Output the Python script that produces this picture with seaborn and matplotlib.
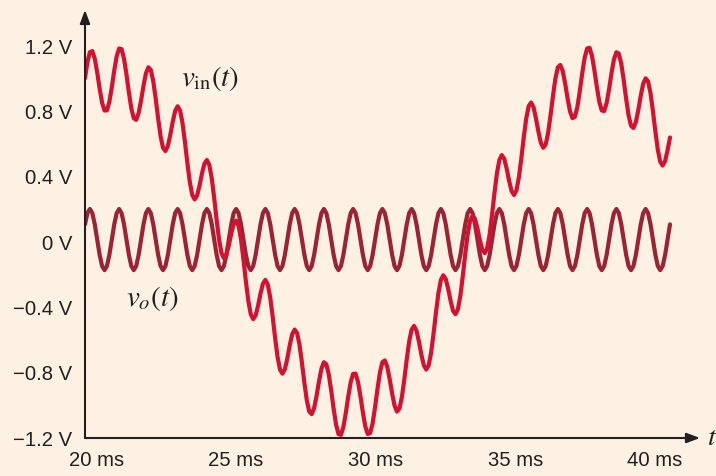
import numpy as np
import pandas as pd
import matplotlib
matplotlib.use("Agg")
import matplotlib.pyplot as plt
import seaborn as sns

t_start_ms = 20
t_end_ms = 40

# input signal v_in(t), millivolts
vin_mV = [
    1003, 1102, 1162, 1169, 1123, 1039, 940, 854, 805, 806, 859, 948,
    1050, 1137, 1185, 1181, 1123, 1027, 916, 819, 758, 748, 789, 866,
    957, 1033, 1070, 1054, 985, 878, 757, 648, 577, 557, 588, 656,
    737, 803, 831, 806, 729, 613, 484, 367, 288, 261, 285, 346,
    420, 480, 502, 472, 390, 270, 135, 15, -68, -99, -78, -20,
    52, 110, 131, 99, 16, -105, -240, -360, -442, -472,
    -450, -390, -316, -255, -232, -261, -341, -458, -588, -704,
    -781, -806, -779, -713, -632, -565, -536, -557, -629, -739,
    -861, -969, -1038, -1054, -1017, -942, -853, -776, -736, -748,
    -810, -909, -1021, -1118, -1176, -1181, -1133, -1047, -946, -858,
    -807, -806, -857, -944, -1044, -1129, -1176, -1169, -1110, -1012,
    -899, -799, -736, -725, -764, -840, -928, -1002, -1038, -1020,
    -950, -842, -718, -608, -536, -514, -543, -610, -690, -755,
    -781, -755, -677, -560, -430, -312, -232, -204, -227, -287,
    -361, -421, -442, -411, -329, -208, -73, 48, 131, 162,
    141, 83, 11, -48, -68, -37, 46, 167, 301, 421,
    502, 532, 509, 449, 374, 312, 288, 316, 395, 511,
    640, 755, 831, 854, 826, 758, 677, 608, 577, 597,
    668, 776, 896, 1002, 1070, 1084, 1046, 969, 878, 799,
    758, 767, 827, 925, 1034, 1129, 1185, 1189, 1139, 1051,
    948, 858, 805, 802, 851, 936, 1034, 1118, 1162, 1153,
    1092, 992, 878, 776, 712, 698, 735, 809, 896, 969,
    1002, 983, 912, 801, 677, 565, 491, 468, 496, 562,
    640,
]

# output signal v_o(t), millivolts
vo_mV = [
    108, 177, 202, 177, 109, 15, -78, -147, -172, -147, -79, 15,
    108, 177, 202, 177, 109, 15, -78, -147, -172, -147, -79, 15,
    108, 177, 202, 177, 109, 15, -78, -147, -172, -147, -79, 15,
    108, 177, 202, 177, 109, 15, -78, -147, -172, -147, -79, 15,
    108, 177, 202, 177, 109, 15, -78, -147, -172, -147, -79, 15,
    108, 177, 202, 177, 109, 15, -78, -147, -172, -147, -79, 15,
    108, 177, 202, 177, 109, 15, -78, -147, -172, -147, -79, 15,
    108, 177, 202, 177, 109, 15, -78, -147, -172, -147, -79, 15,
    108, 177, 202, 177, 109, 15, -78, -147, -172, -147, -79, 15,
    108, 177, 202, 177, 109, 15, -78, -147, -172, -147, -79, 15,
    108, 177, 202, 177, 109, 15, -78, -147, -172, -147, -79, 15,
    108, 177, 202, 177, 109, 15, -78, -147, -172, -147, -79, 15,
    108, 177, 202, 177, 109, 15, -78, -147, -172, -147, -79, 15,
    108, 177, 202, 177, 109, 15, -78, -147, -172, -147, -79, 15,
    108, 177, 202, 177, 109, 15, -78, -147, -172, -147, -79, 15,
    108, 177, 202, 177, 109, 15, -78, -147, -172, -147, -79, 15,
    108, 177, 202, 177, 109, 15, -78, -147, -172, -147, -79, 15,
    108, 177, 202, 177, 109, 15, -78, -147, -172, -147, -79, 15,
    108, 177, 202, 177, 109, 15, -78, -147, -172, -147, -79, 15,
    108, 177, 202, 177, 109, 15, -78, -147, -172, -147, -79, 15,
    108,
]

y_ticks_mV = [1200, 800, 400, 0, -400, -800, -1200]
y_tick_labels = ["1.2 V", "0.8 V", "0.4 V", "0 V", "\u22120.4 V", "\u22120.8 V", "\u22121.2 V"]
x_tick_labels = ["20 ms", "25 ms", "30 ms", "35 ms", "40 ms"]
x_tick_label_pos_ms = [20.38, 25.16, 29.95, 34.72, 39.49]

# ---- styling ----
BG = "#fdf1e3"
INK = "#231f20"
C_IN = "#d31130"
C_OUT = "#9b2335"

sns.set_style("white", {"axes.facecolor": BG, "figure.facecolor": BG})
plt.rcParams["font.family"] = ["Liberation Sans", "DejaVu Sans"]
plt.rcParams["mathtext.fontset"] = "stix"

t_ms = np.linspace(t_start_ms, t_end_ms, len(vin_mV))
df = pd.DataFrame({"t": t_ms, "vin": vin_mV, "vo": vo_mV})

fig = plt.figure(figsize=(7.16, 4.76), dpi=100)
ax = fig.add_axes([85 / 716, 38 / 476, 615 / 716, 428 / 476])

sns.lineplot(data=df, x="t", y="vo", ax=ax, color=C_OUT, linewidth=3)
sns.lineplot(data=df, x="t", y="vin", ax=ax, color=C_IN, linewidth=3)

ax.set_xlim(20, 20 + 615 / 29.25)
ax.set_ylim(-1200, -1200 + 428 / 0.16333)

for s in ax.spines.values():
    s.set_visible(False)

arrow = dict(arrowstyle="-|>,head_length=0.8,head_width=0.3", color=INK, lw=1.5,
             shrinkA=0, shrinkB=0)
ax.annotate("", xy=(1, 0), xytext=(0, 0), xycoords="axes fraction", arrowprops=arrow)
ax.annotate("", xy=(0, 1), xytext=(0, 0), xycoords="axes fraction", arrowprops=arrow)

ax.set_yticks(y_ticks_mV, y_tick_labels)
ax.set_xticks(x_tick_label_pos_ms, x_tick_labels)
ax.tick_params(length=0, labelsize=14.6, colors=INK, pad=9)
ax.set_xlabel("")
ax.set_ylabel("")

ax.text(24.27, 1000, r"$v_{\mathrm{in}}(t)$", fontsize=21, ha="center", va="center", color=INK)
ax.text(22.29, -343, r"$v_{o}(t)$", fontsize=21, ha="center", va="center", color=INK)
ax.text(41.44, -1200, r"$t$", fontsize=20, ha="center", va="center", color=INK, clip_on=False)

fig.savefig("out.png", dpi=100, facecolor=BG)
